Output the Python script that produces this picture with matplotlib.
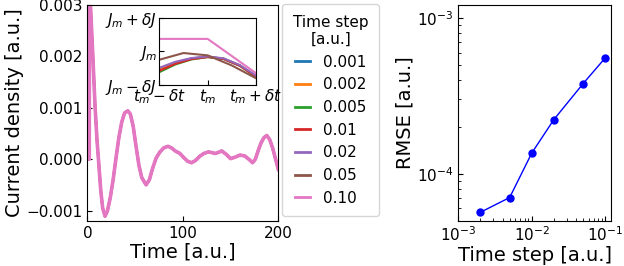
import numpy as np
import matplotlib
import matplotlib.pyplot as plt

matplotlib.use("agg")
plt.rcParams["xtick.direction"] = "in"
plt.rcParams["ytick.direction"] = "in"

# time steps (legend) and the current trace (all steps lie on top of each other)
steps = ["0.001", "0.002", "0.005", "0.01", "0.02", "0.05", "0.10"]
time = [0, 2.0, 2.2, 3, 4, 6, 8, 10, 12, 14, 16, 18.5, 21, 24, 27, 30, 33, 36, 39,
        42.3, 45, 48, 51, 54, 57, 61.5, 65, 68, 72, 76, 80, 84.5, 88, 92, 97, 101,
        105, 109, 113, 118, 122, 126.6, 130, 133.7, 137, 140.7, 145, 150, 155, 160,
        165, 169, 173, 176, 179, 182, 185, 188, 191, 194, 197, 200]
current = [0, 0, 0.0034, 0.0031, 0.0027, 0.0019, 0.00105, 0.0004, -0.0001, -0.0006,
           -0.00095, -0.00111, -0.00101, -0.00075, -0.0004, 0.00002, 0.00042, 0.00072,
           0.0009, 0.00094, 0.00088, 0.00064, 0.00025, -0.00012, -0.00036, -0.0005,
           -0.0004, -0.0002, 0.00002, 0.00014, 0.00022, 0.00025, 0.00022, 0.00016,
           0.00011, 0.00003, -0.00004, -0.00007, -0.00003, 0.00006, 0.00011, 0.00014,
           0.00013, 0.00011, 0.00013, 0.00016, 0.0001, 0.00001, 0.00004, 0.00008,
           0.00006, 0.0, -0.00007, 0.0, 0.00017, 0.00032, 0.00042, 0.00046, 0.00038,
           0.00022, 0.00001, -0.0002]

# inset: zoom around a maximum, in units of dt / dJ
inset_x_fine = [-1, -2/3, -1/3, 0, 1/3, 2/3, 1]
inset_fine = {
    "0.001": [-0.52, -0.33, -0.21, -0.16, -0.22, -0.42, -0.74],
    "0.002": [-0.55, -0.35, -0.22, -0.16, -0.22, -0.42, -0.74],
    "0.005": [-0.62, -0.39, -0.24, -0.17, -0.23, -0.43, -0.76],
    "0.01": [-0.58, -0.37, -0.23, -0.17, -0.23, -0.43, -0.75],
    "0.02": [-0.49, -0.31, -0.2, -0.15, -0.21, -0.41, -0.72],
}
inset_x_005 = [-1, -0.5, 0, 0.5, 1]
inset_005 = [-0.25, -0.05, -0.12, -0.42, -0.8]
inset_x_010 = [-1, 0, 1]
inset_010 = [0.37, 0.37, -0.65]

# convergence
dt = [0.002, 0.005, 0.01, 0.02, 0.05, 0.1]
rmse = [5.67e-5, 7.05e-5, 1.36e-4, 2.23e-4, 3.79e-4, 5.54e-4]

fig = plt.figure(figsize=(6.24, 2.66), dpi=100)
ax = fig.add_axes([0.140, 0.170, 0.306, 0.811])
for i, s in enumerate(steps):
    # earlier steps a bit thinner so the last one covers them
    ax.plot(time, current, color=f"C{i}", lw=2.0 if i == 6 else 1.6, label=s)
ax.plot(time, current, color="C6", lw=2.6)
ax.set_xlim(0, 200)
ax.set_ylim(-0.0012, 0.003)
ax.set_xticks([0, 100, 200])
ax.set_yticks([-0.001, 0.0, 0.001, 0.002, 0.003])
ax.set_yticklabels(["\u22120.001", "0.000", "0.001", "0.002", "0.003"])
ax.tick_params(labelsize=11)
ax.set_xlabel("Time [a.u.]", fontsize=14, labelpad=1)
ax.set_ylabel("Current density [a.u.]", fontsize=14, labelpad=2)
leg = ax.legend(title="Time step\n[a.u.]", loc="upper left", bbox_to_anchor=(1.02, 1.005),
                fontsize=11, title_fontsize=11, handlelength=1.0, labelspacing=0.5,
                borderpad=0.7, borderaxespad=0.0)
leg.get_title().set_multialignment("center")
for h in leg.get_lines():
    h.set_linewidth(2.0)

axin = fig.add_axes([0.2553, 0.6805, 0.155, 0.253])
for i, s in enumerate(steps[:5]):
    axin.plot(inset_x_fine, inset_fine[s], color=f"C{i}", lw=1.5)
axin.plot(inset_x_005, inset_005, color="C5", lw=1.5)
axin.plot(inset_x_010, inset_010, color="C6", lw=1.5)
axin.set_xlim(-1, 1)
axin.set_ylim(-1, 1)
axin.set_xticks([-1, 0, 1])
axin.set_xticklabels([r"$t_m-\delta t$", r"$t_m$", r"$t_m+\delta t$"])
axin.set_yticks([-1, 0, 1])
axin.set_yticklabels([r"$J_m-\delta J$", r"$J_m$", r"$J_m+\delta J$"])
axin.tick_params(labelsize=11, pad=1.5)

ax2 = fig.add_axes([0.7345, 0.170, 0.2447, 0.811])
ax2.loglog(dt, rmse, "o-", color="blue", lw=1, ms=5)
ax2.set_xlim(1e-3, 0.12)
ax2.set_ylim(5.0e-5, 1.21e-3)
ax2.tick_params(which="both", labelsize=11)
ax2.set_xlabel("Time step [a.u.]", fontsize=14, labelpad=1)
ax2.set_ylabel("RMSE [a.u.]", fontsize=14, labelpad=2)

plt.savefig("out.png")
